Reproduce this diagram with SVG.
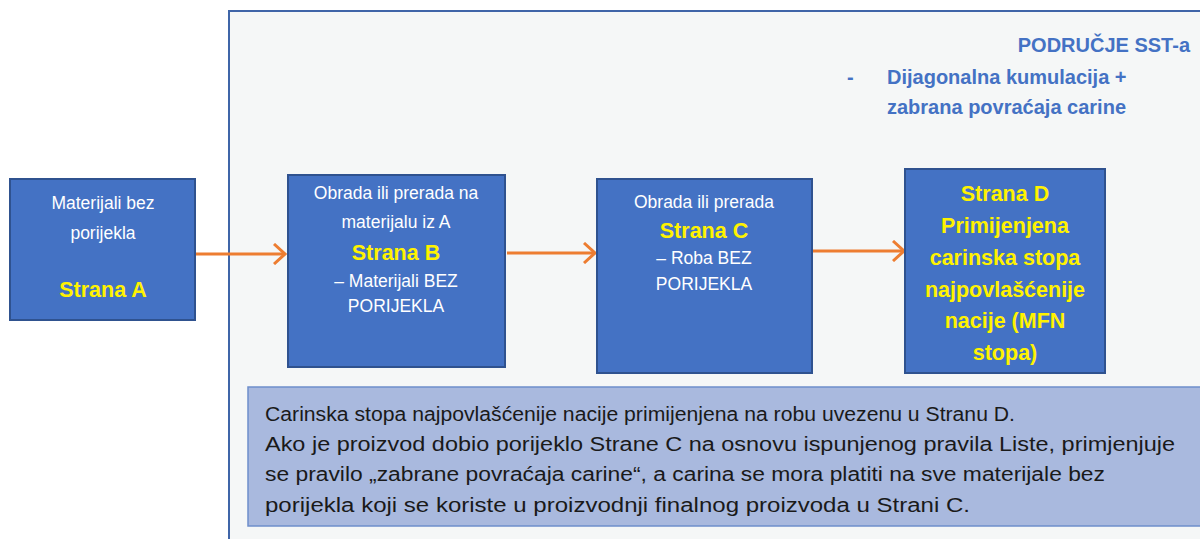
<svg xmlns="http://www.w3.org/2000/svg" width="1200" height="539" viewBox="0 0 1200 539">
<defs>
<style>
.box{fill:#4472C4;stroke:#2F528F;stroke-width:2}
.w{font-family:"Liberation Sans",Arial,sans-serif;font-size:17.5px;fill:#FFFFFF;text-anchor:middle}
.y{font-family:"Liberation Sans",Arial,sans-serif;font-size:21.5px;font-weight:bold;fill:#FFF200;text-anchor:middle}
.hd{font-family:"Liberation Sans",Arial,sans-serif;font-size:20px;font-weight:bold;fill:#4472C4}
.bt{font-family:"Liberation Sans",Arial,sans-serif;font-size:20px;fill:#1a1a1a}
.conn{stroke:#ED7D31;stroke-width:3;fill:none}
</style>
<marker id="arr" markerWidth="14" markerHeight="22" refX="12" refY="11" orient="auto" markerUnits="userSpaceOnUse">
<path d="M1,1 L12,11 L1,21" fill="none" stroke="#ED7D31" stroke-width="3"/>
</marker>
</defs>
<rect width="1200" height="539" fill="#FFFFFF"/>
<g id="region">
<rect x="229" y="11" width="980" height="540" fill="#F5F7F7" stroke="#3F65A8" stroke-width="2"/>
<text class="hd" x="1190" y="52" text-anchor="end">PODRUČJE SST-a</text>
<text class="hd" x="847" y="84" font-weight="normal">-</text>
<text class="hd" x="887" y="84">Dijagonalna kumulacija +</text>
<text class="hd" x="887" y="114">zabrana povraćaja carine</text>
</g>
<g id="connectors">
<line class="conn" x1="195" y1="254" x2="285" y2="254" marker-end="url(#arr)"/>
<line class="conn" x1="507" y1="253" x2="595" y2="253" marker-end="url(#arr)"/>
<line class="conn" x1="813" y1="251" x2="904" y2="251" marker-end="url(#arr)"/>
</g>
<g id="nodeA">
<rect class="box" x="10" y="179" width="185" height="141"/>
<text class="w" x="103" y="209">Materijali bez</text>
<text class="w" x="103" y="239">porijekla</text>
<text class="y" x="103" y="297">Strana A</text>
</g>
<g id="nodeB">
<rect class="box" x="288" y="175" width="217" height="192"/>
<text class="w" x="396" y="199">Obrada ili prerada na</text>
<text class="w" x="396" y="228">materijalu iz A</text>
<text class="y" x="396" y="260">Strana B</text>
<text class="w" x="396" y="287">– Materijali BEZ</text>
<text class="w" x="396" y="312">PORIJEKLA</text>
</g>
<g id="nodeC">
<rect class="box" x="597" y="179" width="215" height="194"/>
<text class="w" x="704" y="208">Obrada ili prerada</text>
<text class="y" x="704" y="238">Strana C</text>
<text class="w" x="704" y="264">– Roba BEZ</text>
<text class="w" x="704" y="290">PORIJEKLA</text>
</g>
<g id="nodeD">
<rect class="box" x="905" y="169" width="200" height="204"/>
<text class="y" x="1005" y="201">Strana D</text>
<text class="y" x="1005" y="233">Primijenjena</text>
<text class="y" x="1005" y="265">carinska stopa</text>
<text class="y" x="1005" y="297">najpovlašćenije</text>
<text class="y" x="1005" y="328">nacije (MFN</text>
<text class="y" x="1005" y="360">stopa)</text>
</g>
<g id="note">
<rect x="248" y="387" width="960" height="139" fill="#A9B9DE" stroke="#6E8FCB" stroke-width="1.5"/>
<text class="bt" x="265" y="421" textLength="750" lengthAdjust="spacingAndGlyphs">Carinska stopa najpovlašćenije nacije primijenjena na robu uvezenu u Stranu D.</text>
<text class="bt" x="265" y="451" textLength="910" lengthAdjust="spacingAndGlyphs">Ako je proizvod dobio porijeklo Strane C na osnovu ispunjenog pravila Liste, primjenjuje</text>
<text class="bt" x="265" y="481" textLength="840" lengthAdjust="spacingAndGlyphs">se pravilo „zabrane povraćaja carine“, a carina se mora platiti na sve materijale bez</text>
<text class="bt" x="265" y="512" textLength="705" lengthAdjust="spacingAndGlyphs">porijekla koji se koriste u proizvodnji finalnog proizvoda u Strani C.</text>
</g>
</svg>
